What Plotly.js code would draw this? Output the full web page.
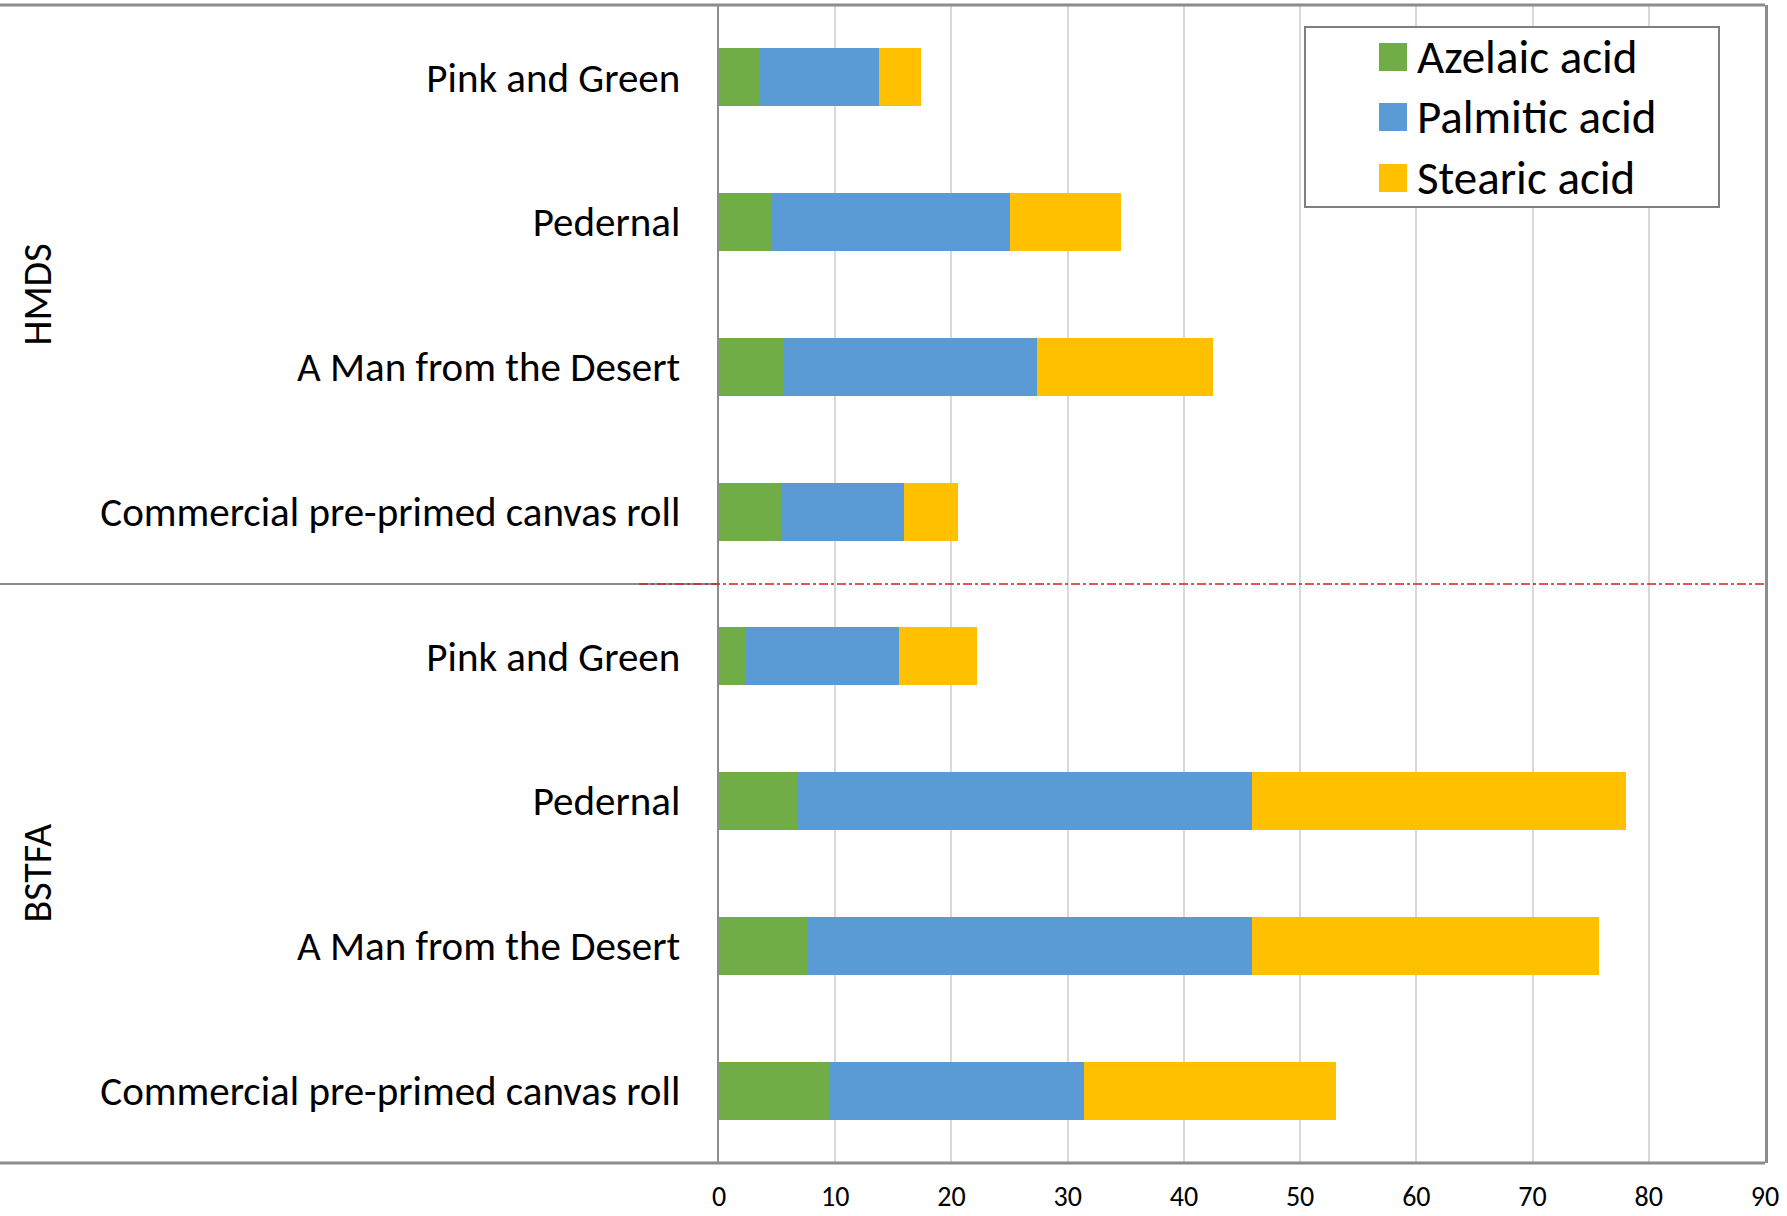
<!DOCTYPE html>
<html><head><meta charset="utf-8">
<script src="https://cdn.plot.ly/plotly-3.0.1.min.js"></script>
<style>html,body{margin:0;padding:0;background:#fff}#chart{width:1787px;height:1216px}</style>
</head><body><div id="chart"></div>
<script>
// ---- data ----
const groupNames = ["HMDS", "BSTFA"];
const groups = ["HMDS","HMDS","HMDS","HMDS","BSTFA","BSTFA","BSTFA","BSTFA"];
const samples = ["Pink and Green","Pedernal","A Man from the Desert","Commercial pre-primed canvas roll",
                 "Pink and Green","Pedernal","A Man from the Desert","Commercial pre-primed canvas roll"];
const azelaic  = [3.4, 4.5, 5.6, 5.3, 2.3, 6.7, 7.6, 9.5];
const palmitic = [10.4, 20.5, 21.8, 10.6, 13.2, 39.2, 38.3, 21.9];
const stearic  = [3.6, 9.6, 15.1, 4.7, 6.7, 32.1, 29.8, 21.7];
const seriesNames = ["Azelaic acid", "Palmitic acid", "Stearic acid"];
const seriesColors = ["#70ad47", "#5b9bd5", "#ffc000"];
const xTickVals = [0, 10, 20, 30, 40, 50, 60, 70, 80, 90];

// ---- layout geometry (pixels) ----
const W = 1787, H = 1216;
const L = 719, R = 1765, T = 5, B = 1163;
const pw = R - L, ph = B - T;
const px = x => (x - L) / pw;          // pixel x -> paper x
const py = y => 1 - (y - T) / ph;      // pixel y -> paper y
const FONT = "Carlito, Calibri, Lato, sans-serif";

const pos = samples.map((s, i) => i);
const values = [azelaic, palmitic, stearic];

const traces = values.map((v, k) => ({
  type: "bar", orientation: "h",
  name: seriesNames[k],
  x: v, y: pos,
  marker: { color: seriesColors[k], line: { width: 0 } },
  showlegend: false,
  hoverinfo: "x+name"
}));

const frameColor = "#8c8c8c";
const shapes = [
  { type: "line", xref: "paper", yref: "paper", x0: px(0), x1: 1, y0: 1, y1: 1,
    line: { color: frameColor, width: 3 } },
  { type: "line", xref: "paper", yref: "paper", x0: px(0), x1: 1, y0: 0, y1: 0,
    line: { color: frameColor, width: 3 } },
  { type: "line", xref: "paper", yref: "paper", x0: px(0), x1: 0, y0: 0.5, y1: 0.5,
    line: { color: frameColor, width: 2 } },
  { type: "line", xref: "paper", yref: "paper", x0: px(639), x1: 1, y0: 0.5, y1: 0.5,
    line: { color: "#d02020", width: 1.5, dash: "dashdot" } },
  { type: "rect", xref: "paper", yref: "paper", x0: px(1305), x1: px(1719), y0: py(27), y1: py(207),
    fillcolor: "#ffffff", line: { color: "#7f7f7f", width: 2 } }
];

const annotations = [
  { text: groupNames[0], xref: "paper", yref: "paper", x: px(37), y: 0.75, textangle: -90,
    showarrow: false, xanchor: "center", yanchor: "middle", font: { family: FONT, size: 40, color: "#000" } },
  { text: groupNames[1], xref: "paper", yref: "paper", x: px(37), y: 0.25, textangle: -90,
    showarrow: false, xanchor: "center", yanchor: "middle", font: { family: FONT, size: 40, color: "#000" } }
];

const legendRows = [57, 117, 178];
seriesNames.forEach((n, k) => {
  const cy = legendRows[k];
  shapes.push({ type: "rect", xref: "paper", yref: "paper",
    x0: px(1379), x1: px(1407), y0: py(cy - 14), y1: py(cy + 14),
    fillcolor: seriesColors[k], line: { width: 0 } });
  annotations.push({ text: n, xref: "paper", yref: "paper", x: px(1415), y: py(cy),
    xanchor: "left", yanchor: "middle", showarrow: false,
    font: { family: FONT, size: 47, color: "#000" } });
});

const layout = {
  width: W, height: H,
  margin: { l: L, r: W - R, t: T, b: H - B, pad: 0 },
  paper_bgcolor: "#fff", plot_bgcolor: "#fff",
  barmode: "stack", bargap: 0.6,
  showlegend: false,
  xaxis: {
    range: [0, 90], tickvals: xTickVals, ticks: "",
    showgrid: true, gridcolor: "#d9d9d9", gridwidth: 2,
    zeroline: false, showline: false,
    tickfont: { family: FONT, size: 28, color: "#000" },
    ticklabelstandoff: 14, fixedrange: true
  },
  yaxis: {
    range: [7.5, -0.5], tickvals: pos, ticktext: samples, ticks: "",
    showgrid: false, zeroline: false,
    showline: true, linecolor: frameColor, linewidth: 2.5, mirror: true,
    tickfont: { family: FONT, size: 41, color: "#000" },
    ticklabelstandoff: 28, fixedrange: true
  },
  shapes: shapes,
  annotations: annotations
};

Plotly.newPlot("chart", traces, layout, { displayModeBar: false, staticPlot: true });
</script>
</body></html>
